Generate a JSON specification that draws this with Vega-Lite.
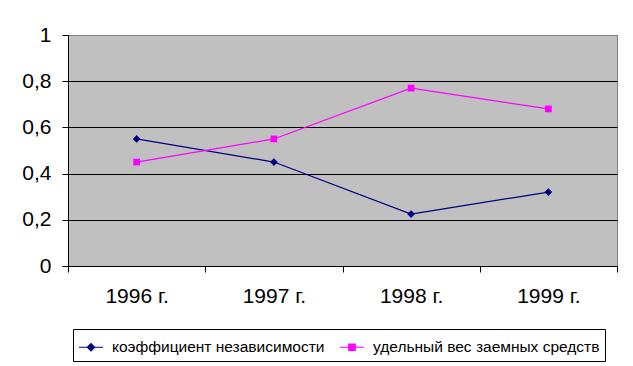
{
  "$schema": "https://vega.github.io/schema/vega-lite/v6.json",
  "width": 549,
  "height": 231,
  "autosize": {"type": "none"},
  "padding": {"left": 68, "top": 35, "right": 16, "bottom": 100},
  "background": "white",
  "config": {
    "font": "Liberation Sans",
    "view": {"fill": "#C0C0C0", "stroke": "#808080", "strokeWidth": 1}
  },
  "data": {
    "values": [
      {"year": "1996 г.", "series": "коэффициент независимости", "value": 0.55},
      {"year": "1997 г.", "series": "коэффициент независимости", "value": 0.45},
      {"year": "1998 г.", "series": "коэффициент независимости", "value": 0.225},
      {"year": "1999 г.", "series": "коэффициент независимости", "value": 0.32},
      {"year": "1996 г.", "series": "удельный вес заемных средств", "value": 0.45},
      {"year": "1997 г.", "series": "удельный вес заемных средств", "value": 0.55},
      {"year": "1998 г.", "series": "удельный вес заемных средств", "value": 0.77},
      {"year": "1999 г.", "series": "удельный вес заемных средств", "value": 0.68}
    ]
  },
  "encoding": {
    "x": {
      "field": "year", "type": "nominal",
      "scale": {"type": "band", "paddingInner": 0, "paddingOuter": 0},
      "axis": {
        "title": null, "labelAngle": 0, "tickBand": "extent",
        "domainColor": "black", "tickColor": "black", "tickSize": 6,
        "labelFontSize": 21, "labelColor": "black", "labelPadding": 13,
        "grid": false
      }
    },
    "y": {
      "field": "value", "type": "quantitative",
      "scale": {"domain": [0, 1], "nice": false},
      "axis": {
        "title": null, "values": [0, 0.2, 0.4, 0.6, 0.8, 1],
        "labelExpr": "replace(format(datum.value, '.1~f'), '.', ',')",
        "domainColor": "black", "tickColor": "black", "tickSize": 6,
        "labelFontSize": 21, "labelColor": "black", "labelPadding": 11,
        "grid": true,
        "gridColor": {"condition": {"test": "datum.value >= 1", "value": "#808080"}, "value": "black"},
        "gridOpacity": 1
      }
    },
    "color": {
      "field": "series", "type": "nominal",
      "scale": {"domain": ["коэффициент независимости", "удельный вес заемных средств"], "range": ["#000080", "#FF00FF"]}
    }
  },
  "layer": [
    {
      "mark": {"type": "line", "strokeWidth": 1.2},
      "encoding": {
        "color": {
          "field": "series", "type": "nominal",
          "legend": {
            "title": null, "orient": "none", "legendX": 5, "legendY": 294,
            "direction": "horizontal", "columns": 2,
            "strokeColor": "black", "padding": 5, "fillColor": "white",
            "labelFontSize": 15.5, "labelColor": "black", "labelOffset": 8,
            "columnPadding": 12, "symbolSize": 576, "symbolStrokeWidth": 1.2,
            "symbolType": "M-1,0H1M-0.3,0L0,-0.3L0.3,0L0,0.3Z",
            "labelLimit": 400,
            "encode": {
              "symbols": {
                "update": {
                  "shape": {"signal": "datum.value === 'коэффициент независимости' ? 'M-1,0H1M-0.3,0L0,-0.3L0.3,0L0,0.3Z' : 'M-1,0H1M-0.27,-0.27H0.27V0.27H-0.27Z'"},
                  "size": {"value": 576},
                  "strokeWidth": {"value": 1.2},
                  "fill": {"signal": "datum.value === 'коэффициент независимости' ? '#000080' : '#FF00FF'"},
                  "stroke": {"signal": "datum.value === 'коэффициент независимости' ? '#000080' : '#FF00FF'"}
                }
              }
            }
          }
        }
      }
    },
    {
      "transform": [{"filter": "datum.series === 'коэффициент независимости'"}],
      "mark": {"type": "point", "filled": true, "opacity": 1, "shape": "diamond", "size": 60},
      "encoding": {"color": {"field": "series", "type": "nominal", "legend": null}}
    },
    {
      "transform": [{"filter": "datum.series === 'удельный вес заемных средств'"}],
      "mark": {"type": "point", "filled": true, "opacity": 1, "shape": "square", "size": 45},
      "encoding": {"color": {"field": "series", "type": "nominal", "legend": null}}
    }
  ]
}
